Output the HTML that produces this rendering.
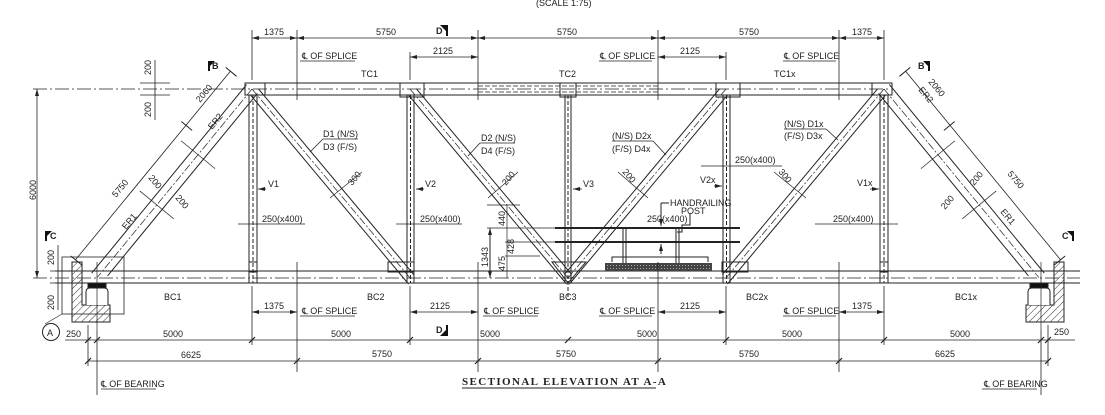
<!DOCTYPE html>
<html><head><meta charset="utf-8"><style>
html,body{margin:0;padding:0;background:#fff;}
svg{display:block;}
text{font-family:"Liberation Sans",sans-serif;font-size:9px;fill:#222;}
</style></head><body>
<svg width="1105" height="415" viewBox="0 0 1105 415" xmlns="http://www.w3.org/2000/svg">
<defs>
<marker id="a" markerWidth="8" markerHeight="6" refX="7" refY="3" orient="auto-start-reverse" markerUnits="userSpaceOnUse"><path d="M0,1 L7,3 L0,5 z" fill="#222"/></marker>
<pattern id="h" width="5" height="5" patternUnits="userSpaceOnUse" patternTransform="rotate(45)"><line x1="0" y1="0" x2="0" y2="5" stroke="#333" stroke-width="1"/></pattern>
<pattern id="g" width="3" height="3" patternUnits="userSpaceOnUse"><rect width="3" height="3" fill="#444"/><rect x="1" y="1" width="1" height="1" fill="#aaa"/></pattern>
</defs>
<g stroke="#222" stroke-width="1" fill="none">
<line x1="252" y1="83" x2="884" y2="83"/>
<line x1="252" y1="95" x2="884" y2="95"/>
<line x1="33" y1="89" x2="890" y2="89" stroke-dasharray="14 3 2 3" stroke-width="0.8"/>
<line x1="478" y1="86" x2="658" y2="86" stroke-dasharray="5 2" stroke-width="0.7"/>
<line x1="478" y1="92" x2="658" y2="92" stroke-dasharray="5 2" stroke-width="0.7"/>
<line x1="55" y1="271" x2="1080" y2="271"/>
<line x1="55" y1="283" x2="1080" y2="283"/>
<line x1="33" y1="278" x2="1080" y2="278" stroke-dasharray="14 3 2 3" stroke-width="0.8"/>
<g>
<line x1="249" y1="95" x2="249" y2="283"/><line x1="257" y1="95" x2="257" y2="283"/><line x1="253" y1="95" x2="253" y2="283" stroke-dasharray="4 2"/>
<line x1="407" y1="95" x2="407" y2="283"/><line x1="414" y1="95" x2="414" y2="283"/><line x1="410.5" y1="95" x2="410.5" y2="283" stroke-dasharray="4 2"/>
<line x1="565" y1="95" x2="565" y2="283"/><line x1="571" y1="95" x2="571" y2="283"/><line x1="568" y1="95" x2="568" y2="300" stroke-dasharray="4 2"/>
<line x1="723" y1="95" x2="723" y2="283"/><line x1="730" y1="95" x2="730" y2="283"/><line x1="726.5" y1="95" x2="726.5" y2="283" stroke-dasharray="4 2"/>
<line x1="880" y1="95" x2="880" y2="283"/><line x1="888" y1="95" x2="888" y2="283"/><line x1="884" y1="95" x2="884" y2="283" stroke-dasharray="4 2"/>
</g>
<g transform="translate(252,89) rotate(50.1)"><line x1="4" y1="-5" x2="246" y2="-5"/><line x1="4" y1="5" x2="250" y2="5"/><line x1="0" y1="0" x2="246" y2="0" stroke-dasharray="8 2 2 2" stroke-width="0.7"/></g>
<g transform="translate(410,89) rotate(50.1)"><line x1="4" y1="-5" x2="246" y2="-5"/><line x1="4" y1="5" x2="250" y2="5"/><line x1="0" y1="0" x2="246" y2="0" stroke-dasharray="8 2 2 2" stroke-width="0.7"/></g>
<g transform="translate(726,89) rotate(129.9)"><line x1="4" y1="-5" x2="250" y2="-5"/><line x1="4" y1="5" x2="246" y2="5"/><line x1="0" y1="0" x2="246" y2="0" stroke-dasharray="8 2 2 2" stroke-width="0.7"/></g>
<g transform="translate(884,89) rotate(129.9)"><line x1="4" y1="-5" x2="250" y2="-5"/><line x1="4" y1="5" x2="246" y2="5"/><line x1="0" y1="0" x2="246" y2="0" stroke-dasharray="8 2 2 2" stroke-width="0.7"/></g>
<g transform="translate(252,89) rotate(129.4)"><line x1="0" y1="-7" x2="236" y2="-7"/><line x1="0" y1="7" x2="244" y2="7"/><line x1="0" y1="0" x2="244" y2="0" stroke-dasharray="8 2 2 2" stroke-width="0.7"/>
<line x1="0" y1="28" x2="244" y2="28" stroke-width="0.8"/><line x1="0" y1="20" x2="0" y2="34"/><line x1="70" y1="20" x2="70" y2="34"/><line x1="244" y1="20" x2="244" y2="34"/>
<line x1="85" y1="-22" x2="85" y2="22" stroke-width="0.7"/><line x1="150" y1="-22" x2="150" y2="22" stroke-width="0.7"/></g>
<g transform="translate(884,89) rotate(50.6)"><line x1="0" y1="-7" x2="244" y2="-7"/><line x1="0" y1="7" x2="236" y2="7"/><line x1="0" y1="0" x2="244" y2="0" stroke-dasharray="8 2 2 2" stroke-width="0.7"/>
<line x1="0" y1="-28" x2="244" y2="-28" stroke-width="0.8"/><line x1="0" y1="-20" x2="0" y2="-34"/><line x1="70" y1="-20" x2="70" y2="-34"/><line x1="244" y1="-20" x2="244" y2="-34"/>
<line x1="85" y1="-22" x2="85" y2="22" stroke-width="0.7"/><line x1="150" y1="-22" x2="150" y2="22" stroke-width="0.7"/></g>
<line x1="330" y1="198" x2="362" y2="172" stroke-width="0.7"/>
<line x1="488" y1="198" x2="518" y2="172" stroke-width="0.7"/>
<line x1="618" y1="172" x2="648" y2="198" stroke-width="0.7"/>
<line x1="774" y1="172" x2="806" y2="198" stroke-width="0.7"/>
<rect x="400" y="83" width="24" height="14"/><rect x="716" y="83" width="24" height="14"/>
<rect x="560" y="83" width="16" height="14"/>
<rect x="245" y="83" width="20" height="12"/><rect x="872" y="83" width="20" height="12"/>
<path d="M552,262 L586,262 L568,283 z"/>
<rect x="388" y="262" width="26" height="10"/><rect x="722" y="262" width="26" height="10"/>
<rect x="249" y="262" width="8" height="10"/><rect x="880" y="262" width="8" height="10"/>
<line x1="555" y1="228" x2="740" y2="228" stroke-width="2"/>
<line x1="555" y1="242" x2="740" y2="242" stroke-width="2"/>
<line x1="623" y1="228" x2="623" y2="265"/><line x1="626" y1="228" x2="626" y2="265"/>
<line x1="676" y1="228" x2="676" y2="265"/><line x1="679" y1="228" x2="679" y2="265"/>
<path d="M612,262 L612,257 L708,257 L708,262"/>
<line x1="661" y1="203" x2="669" y2="203"/><line x1="661" y1="203" x2="661" y2="226" marker-end="url(#a)"/>
<line x1="661" y1="254" x2="661" y2="244" marker-end="url(#a)"/>
<path d="M690,213 L690,225 L682,225 L682,232 L677,232"/>
<line x1="487" y1="228" x2="555" y2="228" stroke-width="0.7"/>
<line x1="487" y1="205" x2="520" y2="205" stroke-width="0.7"/>
<line x1="505" y1="242" x2="555" y2="242" stroke-width="0.7"/>
<line x1="505" y1="256" x2="540" y2="256" stroke-width="0.7"/>
<line x1="490" y1="228" x2="490" y2="278" marker-start="url(#a)" marker-end="url(#a)"/>
<line x1="507" y1="205" x2="507" y2="278" stroke-width="0.7"/>
<rect x="62" y="257" width="62" height="57" stroke-width="0.8"/>
<path d="M72,262 L82,262 L82,305 L110,305 L110,322 L72,322 z" fill="url(#h)"/>
<path d="M86,305 L86,292 Q86,288 90,288 L104,288 Q108,288 108,292 L108,305" fill="#fff"/>
<rect x="88" y="283" width="18" height="5" fill="#111"/>
<line x1="97" y1="262" x2="97" y2="330" stroke-width="0.7"/>
<path d="M62,314 L45,324" stroke-width="0.7"/>
<circle cx="51" cy="332" r="8.5"/>
<path d="M1064,262 L1054,262 L1054,305 L1026,305 L1026,322 L1064,322 z" fill="url(#h)"/>
<path d="M1050,305 L1050,292 Q1050,288 1046,288 L1032,288 Q1028,288 1028,292 L1028,305" fill="#fff"/>
<rect x="1030" y="283" width="18" height="5" fill="#111"/>
<line x1="1041" y1="262" x2="1041" y2="330" stroke-width="0.7"/>
<rect x="605" y="263" width="107" height="8" fill="url(#g)" stroke="none"/>
<g stroke-width="0.8">
<line x1="297" y1="30" x2="297" y2="100"/><line x1="478" y1="30" x2="478" y2="100"/><line x1="658" y1="30" x2="658" y2="100"/><line x1="839" y1="30" x2="839" y2="100"/>
<line x1="297" y1="262" x2="297" y2="372"/><line x1="478" y1="262" x2="478" y2="372"/><line x1="658" y1="262" x2="658" y2="372"/><line x1="839" y1="262" x2="839" y2="372"/>
<line x1="252" y1="30" x2="252" y2="80"/><line x1="884" y1="30" x2="884" y2="80"/>
<line x1="410" y1="52" x2="410" y2="80"/><line x1="726" y1="52" x2="726" y2="80"/>
<line x1="252" y1="286" x2="252" y2="345"/><line x1="884" y1="286" x2="884" y2="345"/>
<line x1="410" y1="286" x2="410" y2="345"/><line x1="726" y1="286" x2="726" y2="345"/>
<line x1="88" y1="325" x2="88" y2="366"/><line x1="1048" y1="325" x2="1048" y2="366"/>
<line x1="97" y1="330" x2="97" y2="395"/><line x1="1041" y1="330" x2="1041" y2="395"/>
</g>
<g stroke-width="0.8">
<line x1="252" y1="38" x2="297" y2="38" marker-start="url(#a)" marker-end="url(#a)"/>
<line x1="297" y1="38" x2="478" y2="38" marker-start="url(#a)" marker-end="url(#a)"/>
<line x1="478" y1="38" x2="658" y2="38" marker-start="url(#a)" marker-end="url(#a)"/>
<line x1="658" y1="38" x2="839" y2="38" marker-start="url(#a)" marker-end="url(#a)"/>
<line x1="839" y1="38" x2="884" y2="38" marker-start="url(#a)" marker-end="url(#a)"/>
<line x1="410" y1="57" x2="478" y2="57" marker-start="url(#a)" marker-end="url(#a)"/>
<line x1="658" y1="57" x2="726" y2="57" marker-start="url(#a)" marker-end="url(#a)"/>
<line x1="252" y1="312" x2="297" y2="312" marker-start="url(#a)" marker-end="url(#a)"/>
<line x1="410" y1="312" x2="478" y2="312" marker-start="url(#a)" marker-end="url(#a)"/>
<line x1="658" y1="312" x2="726" y2="312" marker-start="url(#a)" marker-end="url(#a)"/>
<line x1="839" y1="312" x2="884" y2="312" marker-start="url(#a)" marker-end="url(#a)"/>
<line x1="65" y1="340" x2="1075" y2="340"/>
<line x1="88" y1="361" x2="1048" y2="361"/>
<line x1="37" y1="89" x2="37" y2="278" marker-start="url(#a)" marker-end="url(#a)"/>
<line x1="155" y1="60" x2="155" y2="120"/>
<line x1="140" y1="83" x2="170" y2="83"/><line x1="140" y1="95" x2="170" y2="95"/>
<line x1="58" y1="245" x2="58" y2="310"/>
<line x1="50" y1="271" x2="70" y2="271"/><line x1="50" y1="283" x2="70" y2="283"/>
<line x1="300" y1="61" x2="355" y2="61"/><line x1="300" y1="316" x2="355" y2="316"/>
<line x1="483" y1="316" x2="538" y2="316"/>
<line x1="599" y1="61" x2="652" y2="61"/><line x1="599" y1="316" x2="652" y2="316"/>
<line x1="783" y1="61" x2="836" y2="61"/><line x1="783" y1="316" x2="836" y2="316"/>
<line x1="101" y1="389" x2="156" y2="389"/><line x1="982" y1="389" x2="1037" y2="389"/>
<line x1="238" y1="224" x2="305" y2="224"/><line x1="396" y1="224" x2="462" y2="224"/>
<line x1="701" y1="166" x2="782" y2="166"/><line x1="815" y1="224" x2="898" y2="224"/>
<line x1="266" y1="189" x2="258" y2="189" marker-end="url(#a)"/>
<line x1="424" y1="189" x2="416" y2="189" marker-end="url(#a)"/>
<line x1="582" y1="189" x2="573" y2="189" marker-end="url(#a)"/>
<line x1="714" y1="186" x2="722" y2="186" marker-end="url(#a)"/>
<line x1="870" y1="189" x2="879" y2="189" marker-end="url(#a)"/>
<line x1="323" y1="139" x2="358" y2="139"/><line x1="323" y1="139" x2="310" y2="152"/>
<line x1="480" y1="143" x2="515" y2="143"/><line x1="480" y1="143" x2="468" y2="156"/>
<line x1="612" y1="141" x2="653" y2="141"/><line x1="653" y1="141" x2="666" y2="155"/>
<line x1="784" y1="129" x2="826" y2="129"/><line x1="826" y1="129" x2="838" y2="140"/>
</g>
<g stroke-width="1.2">
<path d="M85,343 l6,-6 M94,343 l6,-6 M249,343 l6,-6 M407,343 l6,-6 M565,343 l6,-6 M723,343 l6,-6 M881,343 l6,-6 M1038,343 l6,-6 M1045,343 l6,-6"/>
<path d="M85,364 l6,-6 M294,364 l6,-6 M475,364 l6,-6 M655,364 l6,-6 M836,364 l6,-6 M1045,364 l6,-6"/>
</g>
</g>
<g fill="#111">
<path d="M440,25 h8 v8 z"/><path d="M448,25 v11 h-2 v-11 z"/>
<path d="M440,336 h8 v-8 z"/><path d="M448,336 v-11 h-2 v11 z"/>
<path d="M208,61 h7 l-7,7 z"/><rect x="208" y="61" width="2" height="10"/>
<path d="M930,61 h-7 l7,7 z"/><rect x="928" y="61" width="2" height="10"/>
<path d="M45,231 h7 l-7,7 z"/><rect x="45" y="231" width="2" height="10"/>
<path d="M1074,231 h-7 l7,7 z"/><rect x="1072" y="231" width="2" height="10"/>
</g>
<g>
<text x="536" y="6" font-size="8">(SCALE 1:75)</text>
<text x="436" y="34" font-weight="bold">D</text><text x="436" y="333" font-weight="bold">D</text>
<text x="212" y="69" font-weight="bold">B</text><text x="918" y="69" font-weight="bold">B</text>
<text x="50" y="239" font-weight="bold">C</text><text x="1062" y="239" font-weight="bold">C</text>
<text x="47" y="336" font-size="10">A</text>
<text x="264" y="35">1375</text><text x="376" y="35">5750</text><text x="557" y="35">5750</text><text x="739" y="35">5750</text><text x="852" y="35">1375</text>
<text x="302" y="59" font-size="7">℄ OF SPLICE</text><text x="433" y="54">2125</text>
<text x="600" y="59" font-size="7">℄ OF SPLICE</text><text x="680" y="54">2125</text>
<text x="784" y="59" font-size="7">℄ OF SPLICE</text>
<text x="361" y="77" font-size="8">TC1</text><text x="559" y="77" font-size="8">TC2</text><text x="774" y="77" font-size="8">TC1x</text>
<text x="323" y="137" font-size="8.5">D1 (N/S)</text><text x="323" y="150" font-size="8.5">D3 (F/S)</text>
<text x="481" y="141" font-size="8.5">D2 (N/S)</text><text x="481" y="154" font-size="8.5">D4 (F/S)</text>
<text x="612" y="139" font-size="8.5">(N/S) D2x</text><text x="612" y="152" font-size="8.5">(F/S) D4x</text>
<text x="784" y="127" font-size="8.5">(N/S) D1x</text><text x="784" y="139" font-size="8.5">(F/S) D3x</text>
<text x="268" y="187" font-size="8.5">V1</text><text x="425" y="187" font-size="8.5">V2</text><text x="583" y="187" font-size="8.5">V3</text>
<text x="700" y="183" font-size="8.5">V2x</text><text x="857" y="186" font-size="8.5">V1x</text>
<text x="262" y="222" font-size="8.5">250(x400)</text><text x="420" y="222" font-size="8.5">250(x400)</text>
<text x="735" y="163" font-size="8.5">250(x400)</text><text x="833" y="222" font-size="8.5">250(x400)</text>
<text x="647" y="222" font-size="8.5">250(x400)</text>
<text x="670" y="206" font-size="8">HANDRAILING</text><text x="681" y="214" font-size="8">POST</text>
<text transform="translate(352,186) rotate(-50)" font-size="8.5">300</text>
<text transform="translate(506,186) rotate(-50)" font-size="8.5">200</text>
<text transform="translate(622,172) rotate(50)" font-size="8.5">200</text>
<text transform="translate(778,172) rotate(50)" font-size="8.5">300</text>
<text transform="translate(212,130) rotate(-50)" font-size="8">ER2</text>
<text transform="translate(126,230) rotate(-50)" font-size="8">ER1</text>
<text transform="translate(200,103) rotate(-50)">2060</text>
<text transform="translate(116,198) rotate(-50)">5750</text>
<text transform="translate(148,178) rotate(50)" font-size="8.5">200</text>
<text transform="translate(175,198) rotate(50)" font-size="8.5">200</text>
<text transform="translate(918,90) rotate(50)" font-size="8">ER2</text>
<text transform="translate(1000,212) rotate(50)" font-size="8">ER1</text>
<text transform="translate(928,82) rotate(50)">2060</text>
<text transform="translate(1007,174) rotate(50)">5750</text>
<text transform="translate(974,186) rotate(-50)" font-size="8.5">200</text>
<text transform="translate(945,210) rotate(-50)" font-size="8.5">200</text>
<text transform="translate(151,75) rotate(-90)" font-size="8.5">200</text>
<text transform="translate(151,117) rotate(-90)" font-size="8.5">200</text>
<text transform="translate(54,265) rotate(-90)" font-size="8.5">200</text>
<text transform="translate(54,310) rotate(-90)" font-size="8.5">200</text>
<text transform="translate(36,200) rotate(-90)" font-size="8.5">6000</text>
<text transform="translate(488,267) rotate(-90)" font-size="8.5">1343</text>
<text transform="translate(505,226) rotate(-90)" font-size="8">440</text>
<text transform="translate(514,254) rotate(-90)" font-size="8">428</text>
<text transform="translate(505,271) rotate(-90)" font-size="8">475</text>
<text x="164" y="300" font-size="8.5">BC1</text><text x="367" y="300" font-size="8.5">BC2</text>
<text x="559" y="300" font-size="8.5">BC3</text><text x="746" y="300" font-size="8.5">BC2x</text><text x="955" y="300" font-size="8.5">BC1x</text>
<text x="264" y="309">1375</text><text x="302" y="314" font-size="7">℄ OF SPLICE</text>
<text x="430" y="309">2125</text><text x="484" y="314" font-size="7">℄ OF SPLICE</text>
<text x="600" y="314" font-size="7">℄ OF SPLICE</text><text x="680" y="309">2125</text>
<text x="784" y="314" font-size="7">℄ OF SPLICE</text><text x="852" y="309">1375</text>
<text x="66" y="337">250</text><text x="163" y="337">5000</text><text x="331" y="337">5000</text><text x="480" y="337">5000</text>
<text x="637" y="337">5000</text><text x="782" y="337">5000</text><text x="950" y="337">5000</text><text x="1054" y="335">250</text>
<text x="181" y="358">6625</text><text x="372" y="357" font-size="10">5750</text><text x="556" y="357">5750</text>
<text x="739" y="357">5750</text><text x="935" y="357">6625</text>
<text x="101" y="387" font-size="7">℄ OF BEARING</text><text x="984" y="387" font-size="7">℄ OF BEARING</text>
<text x="462" y="385" style="font-family:'Liberation Serif',serif;font-weight:bold;font-size:11px;letter-spacing:1.4px">SECTIONAL ELEVATION AT A-A</text>
</g>
<line x1="462" y1="388" x2="656" y2="388" stroke="#222" stroke-width="1"/>
</svg>
</body></html>
